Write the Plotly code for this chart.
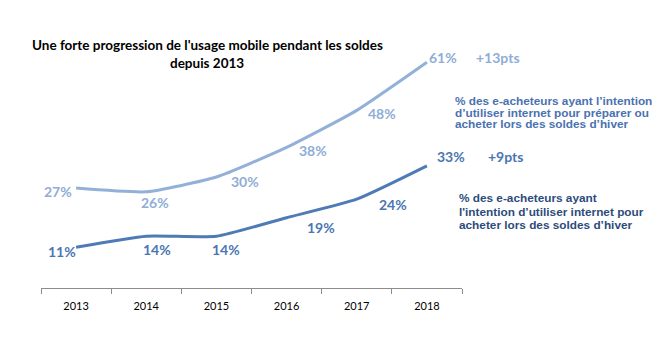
import plotly.graph_objects as go

# Data
years = ["2013", "2014", "2015", "2016", "2017", "2018"]
prepare_or_buy = [27, 26, 30, 38, 48, 61]   # préparer ou acheter
buy_only = [11, 14, 14, 19, 24, 33]         # acheter
gain_prepare = "+13pts"
gain_buy = "+9pts"

title_lines = ["Une forte progression de l'usage mobile pendant les soldes", "depuis 2013"]
desc_prepare = ["% des e-acheteurs ayant l’intention",
                "d’utiliser internet pour préparer ou",
                "acheter lors des soldes d’hiver"]
desc_buy = ["% des e-acheteurs ayant",
            "l'intention d’utiliser internet pour",
            "acheter lors des soldes d’hiver"]

LIGHT = "#93B1D8"
DARK = "#4E7AB5"
LIGHT_TXT = "#8FADD6"
DARK_TXT = "#4A76B2"
DESC1 = "#4A72B0"
DESC2 = "#2D4B7C"

W, H = 667, 339
ML, MR, MT, MB = 41, 205, 29, 51
PW, PH = W - ML - MR, H - MT - MB


def paper_x(px):
    return (px - ML) / PW


def paper_y(py):
    return (H - MB - py) / PH


fig = go.Figure()
fig.add_trace(go.Scatter(x=years, y=prepare_or_buy, mode="lines",
                         line=dict(color=LIGHT, width=3, shape="spline", smoothing=0.5),
                         hoverinfo="skip"))
fig.add_trace(go.Scatter(x=years, y=buy_only, mode="lines",
                         line=dict(color=DARK, width=3, shape="spline", smoothing=0.5),
                         hoverinfo="skip"))

label_font = "Lato"
annotations = []

# value label offsets (pixels) for each point
light_off = [(-18, -3), (9, -11), (29, -4), (26, -3), (25, -3), (16, 5)]
dark_off = [(-14, -4), (11, -13), (10, -13), (34, -10), (36, -5), (24, 9)]

# category axes place annotations by category index
for i, (v, (dx, dy)) in enumerate(zip(prepare_or_buy, light_off)):
    annotations.append(dict(x=i, y=v, xref="x", yref="y", text=f"{v}%", showarrow=False,
                            xshift=dx, yshift=dy,
                            font=dict(family=label_font, size=14, color=LIGHT_TXT, weight="bold")))
for i, (v, (dx, dy)) in enumerate(zip(buy_only, dark_off)):
    annotations.append(dict(x=i, y=v, xref="x", yref="y", text=f"{v}%", showarrow=False,
                            xshift=dx, yshift=dy,
                            font=dict(family=label_font, size=14, color=DARK_TXT, weight="bold")))

last = len(years) - 1
annotations.append(dict(x=last, y=prepare_or_buy[-1], xref="x", yref="y", text=gain_prepare,
                        showarrow=False, xshift=71, yshift=5,
                        font=dict(family=label_font, size=14, color=LIGHT_TXT, weight="bold")))
annotations.append(dict(x=last, y=buy_only[-1], xref="x", yref="y", text=gain_buy,
                        showarrow=False, xshift=79, yshift=9,
                        font=dict(family=label_font, size=14, color=DARK_TXT, weight="bold")))

# title
for line, py in zip(title_lines, [45, 63]):
    annotations.append(dict(x=paper_x(207), y=paper_y(py), xref="paper", yref="paper", text=line,
                            showarrow=False, xanchor="center", yanchor="middle",
                            font=dict(family="Lato", size=13.5, color="#000000", weight="bold")))

# series descriptions
for line, py in zip(desc_prepare, [101, 112.5, 124]):
    annotations.append(dict(x=paper_x(453), y=paper_y(py), xref="paper", yref="paper", text=line,
                            showarrow=False, xanchor="left", yanchor="middle",
                            font=dict(family="Liberation Sans", size=11.8, color=DESC1, weight="bold")))
for line, py in zip(desc_buy, [198, 211.5, 225]):
    annotations.append(dict(x=paper_x(457), y=paper_y(py), xref="paper", yref="paper", text=line,
                            showarrow=False, xanchor="left", yanchor="middle",
                            font=dict(family="Liberation Sans", size=11.8, color=DESC2, weight="bold")))

fig.update_layout(
    width=W, height=H,
    margin=dict(l=ML, r=MR, t=MT, b=MB),
    paper_bgcolor="white", plot_bgcolor="white",
    showlegend=False,
    annotations=annotations,
    xaxis=dict(type="category", range=[-0.5, 5.5], showgrid=False, zeroline=False,
               showline=True, linecolor="#8C8C8C", linewidth=1,
               ticks="outside", tickson="boundaries", ticklen=5, tickcolor="#8C8C8C",
               ticklabelstandoff=8,
               tickfont=dict(family="Lato", size=11, color="#000000")),
    yaxis=dict(range=[0, 70], visible=False),
)

fig.write_html("out.html")
